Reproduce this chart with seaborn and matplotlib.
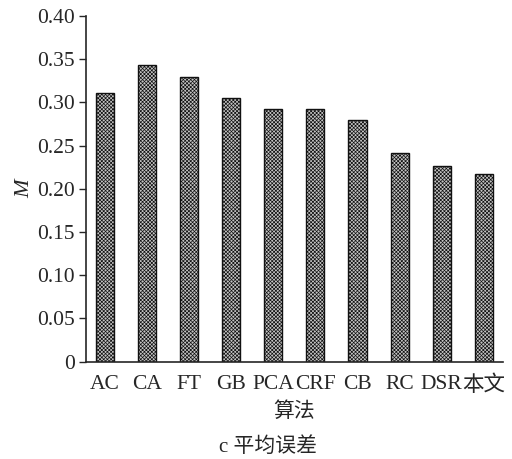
import matplotlib
matplotlib.use("Agg")
import matplotlib.pyplot as plt
import seaborn as sns
import pandas as pd

methods = ["AC", "CA", "FT", "GB", "PCA", "CRF", "CB", "RC", "DSR", "本文"]
mean_error = [0.311, 0.343, 0.330, 0.305, 0.292, 0.292, 0.280, 0.241, 0.226, 0.217]
yticks = [0, 0.05, 0.10, 0.15, 0.20, 0.25, 0.30, 0.35, 0.40]
ytick_labels = ["0", "0.05", "0.10", "0.15", "0.20", "0.25", "0.30", "0.35", "0.40"]

sns.set_style("ticks")
plt.rcParams["font.family"] = ["Liberation Serif", "Noto Sans CJK SC"]
plt.rcParams["hatch.color"] = "#4a4a4a"
plt.rcParams["hatch.linewidth"] = 0.5

df = pd.DataFrame({"算法": methods, "M": mean_error})

fig = plt.figure(figsize=(5.12, 4.59), dpi=100)
ax = fig.add_axes([0.168, 0.2124, 0.814, 0.7526])

sns.barplot(data=df, x="算法", y="M", ax=ax, color="#c4c4c4",
            width=0.43, edgecolor="#111111", linewidth=1.0, saturation=1)
for p in ax.patches:
    p.set_hatch("xxxxxxxxx")

ax.set_xlim(-0.45, 9.45)
ax.set_ylim(0, 0.40)
ax.set_yticks(yticks)
ax.set_yticklabels(ytick_labels)
ax.tick_params(axis="y", direction="out", length=5, width=1, labelsize=15.5, pad=3)
ax.tick_params(axis="x", length=0, labelsize=15.5, pad=10)
for lbl in ax.get_xticklabels():
    lbl.set_fontfamily(["Liberation Serif", "Noto Sans CJK SC"])

sns.despine(ax=ax)
ax.spines["left"].set_linewidth(1.2)
ax.spines["bottom"].set_linewidth(1.2)

ax.set_xlabel("算法", fontsize=15, fontfamily="Noto Sans CJK SC", labelpad=3)
ax.set_ylabel("M", fontsize=16, fontstyle="italic", labelpad=2)

fig.text(0.523, 0.026, "c 平均误差", ha="center", va="center", fontsize=15,
         fontfamily=["Liberation Serif", "Noto Sans CJK SC"])

fig.savefig("out.png", dpi=100)
